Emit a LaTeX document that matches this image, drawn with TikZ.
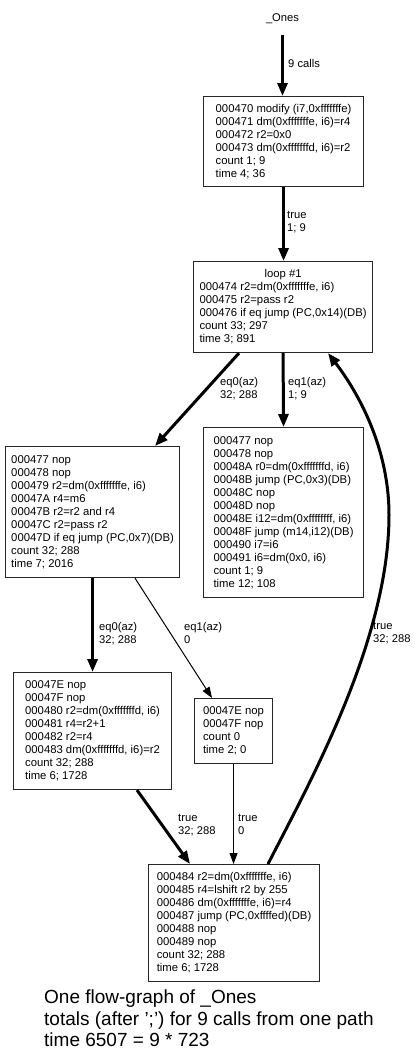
\documentclass[tikz,border=0pt]{standalone}
\usepackage{fontspec}
\setmainfont{Liberation Sans}
\usetikzlibrary{arrows.meta}
\begin{document}
\begin{tikzpicture}[x=1pt,y=-1pt,
  blk/.style={draw=black!85, line width=1.1pt, inner sep=0pt, align=left,
    font=\fontsize{11.3}{13}\selectfont, anchor=north west},
  lbl/.style={inner sep=0pt, align=left, font=\fontsize{11.2}{13}\selectfont, anchor=north west},
  thickedge/.style={line width=3pt, -{Triangle[length=13pt,width=10pt]}},
  thinedge/.style={line width=1pt, -{Triangle[length=11pt,width=8pt]}}]
\fill[white] (0,0) rectangle (415,1061);
\useasboundingbox (0,0) rectangle (415,1061);

\node[lbl, anchor=center, minimum height=32pt] (ones) at (282.5,19) {\_Ones};

\node[blk, minimum width=160pt, minimum height=90pt] (b1) at (203,96)
 {000470 modify (i7,0xfffffffe)\\000471 dm(0xfffffffe, i6)=r4\\000472 r2=0x0\\000473 dm(0xfffffffd, i6)=r2\\count 1; 9\\time 4; 36};

\node[blk, minimum width=179pt, minimum height=91pt] (loop) at (193,261)
 {\begin{tabular}{@{}l@{}}\multicolumn{1}{@{}c@{}}{loop \#1}\\000474 r2=dm(0xfffffffe, i6)\\000475 r2=pass r2\\000476 if eq jump (PC,0x14)(DB)\\count 33; 297\\time 3; 891\end{tabular}};

\node[blk, minimum width=174pt, minimum height=131pt] (L) at (5,446)
 {000477 nop\\000478 nop\\000479 r2=dm(0xfffffffe, i6)\\00047A r4=m6\\00047B r2=r2 and r4\\00047C r2=pass r2\\00047D if eq jump (PC,0x7)(DB)\\count 32; 288\\time 7; 2016};

\node[blk, minimum width=160pt, minimum height=170pt] (R) at (203,427)
 {000477 nop\\000478 nop\\00048A r0=dm(0xfffffffd, i6)\\00048B jump (PC,0x3)(DB)\\00048C nop\\00048D nop\\00048E i12=dm(0xffffffff, i6)\\00048F jump (m14,i12)(DB)\\000490 i7=i6\\000491 i6=dm(0x0, i6)\\count 1; 9\\time 12; 108};

\node[blk, minimum width=158pt, minimum height=117pt] (E1) at (13,672)
 {00047E nop\\00047F nop\\000480 r2=dm(0xfffffffd, i6)\\000481 r4=r2+1\\000482 r2=r4\\000483 dm(0xfffffffd, i6)=r2\\count 32; 288\\time 6; 1728};

\node[blk, minimum width=78pt, minimum height=65pt] (E2) at (194,698)
 {00047E nop\\00047F nop\\count 0\\time 2; 0};

\node[blk, minimum width=171pt, minimum height=117pt] (B) at (148,864)
 {000484 r2=dm(0xfffffffe, i6)\\000485 r4=lshift r2 by 255\\000486 dm(0xfffffffe, i6)=r4\\000487 jump (PC,0xffffed)(DB)\\000488 nop\\000489 nop\\count 32; 288\\time 6; 1728};

% edges
\draw[thickedge] (ones.south) -- (ones.south |- b1.north);
\node[lbl, anchor=west] (l0) at (288,63) {9 calls};

\draw[thickedge] (b1.south) -- (b1.south |- loop.north);
\node[lbl] (l1) at (287,211) {true\\1; 9};

\draw[thickedge] ([xshift=46pt]loop.south west) -- ([xshift=150pt]L.north west);
\node[lbl] (l2) at (220,377) {eq0(az)\\32; 288};

\draw[thickedge] (loop.south) -- (R.north);
\node[lbl] (l3) at (288,377) {eq1(az)\\1; 9};

\draw[thickedge] (L.south) -- (E1.north);
\node[lbl] (l4) at (99,622) {eq0(az)\\32; 288};

\draw[thinedge] ([xshift=130pt]L.south west) -- ([xshift=18pt]E2.north west);
\node[lbl] (l5) at (184,622) {eq1(az)\\0};

\draw[thickedge] ([xshift=124pt]E1.south west) -- ([xshift=42pt]B.north west);
\node[lbl] (l6) at (178,814) {true\\32; 288};

\draw[thinedge] (E2.south) -- (E2.south |- B.north);
\node[lbl] (l7) at (238,814) {true\\0};

\coordinate (bk) at (389,515);
\draw[thickedge] ([xshift=120pt]B.north west) .. controls +(42,-82) and +(0,125) .. (bk)
   .. controls +(0,-75) and +(23,30) .. ([xshift=135pt]loop.south west);
\node[lbl] (l8) at (373,622) {true\\32; 288};

\node[inner sep=0pt, align=left, anchor=north west, font=\fontsize{19}{21.5}\selectfont] (cap) at (44,990)
 {One flow-graph of \_Ones\\totals (after ';') for 9 calls from one path\\time 6507 = 9 * 723};
\end{tikzpicture}
\end{document}
